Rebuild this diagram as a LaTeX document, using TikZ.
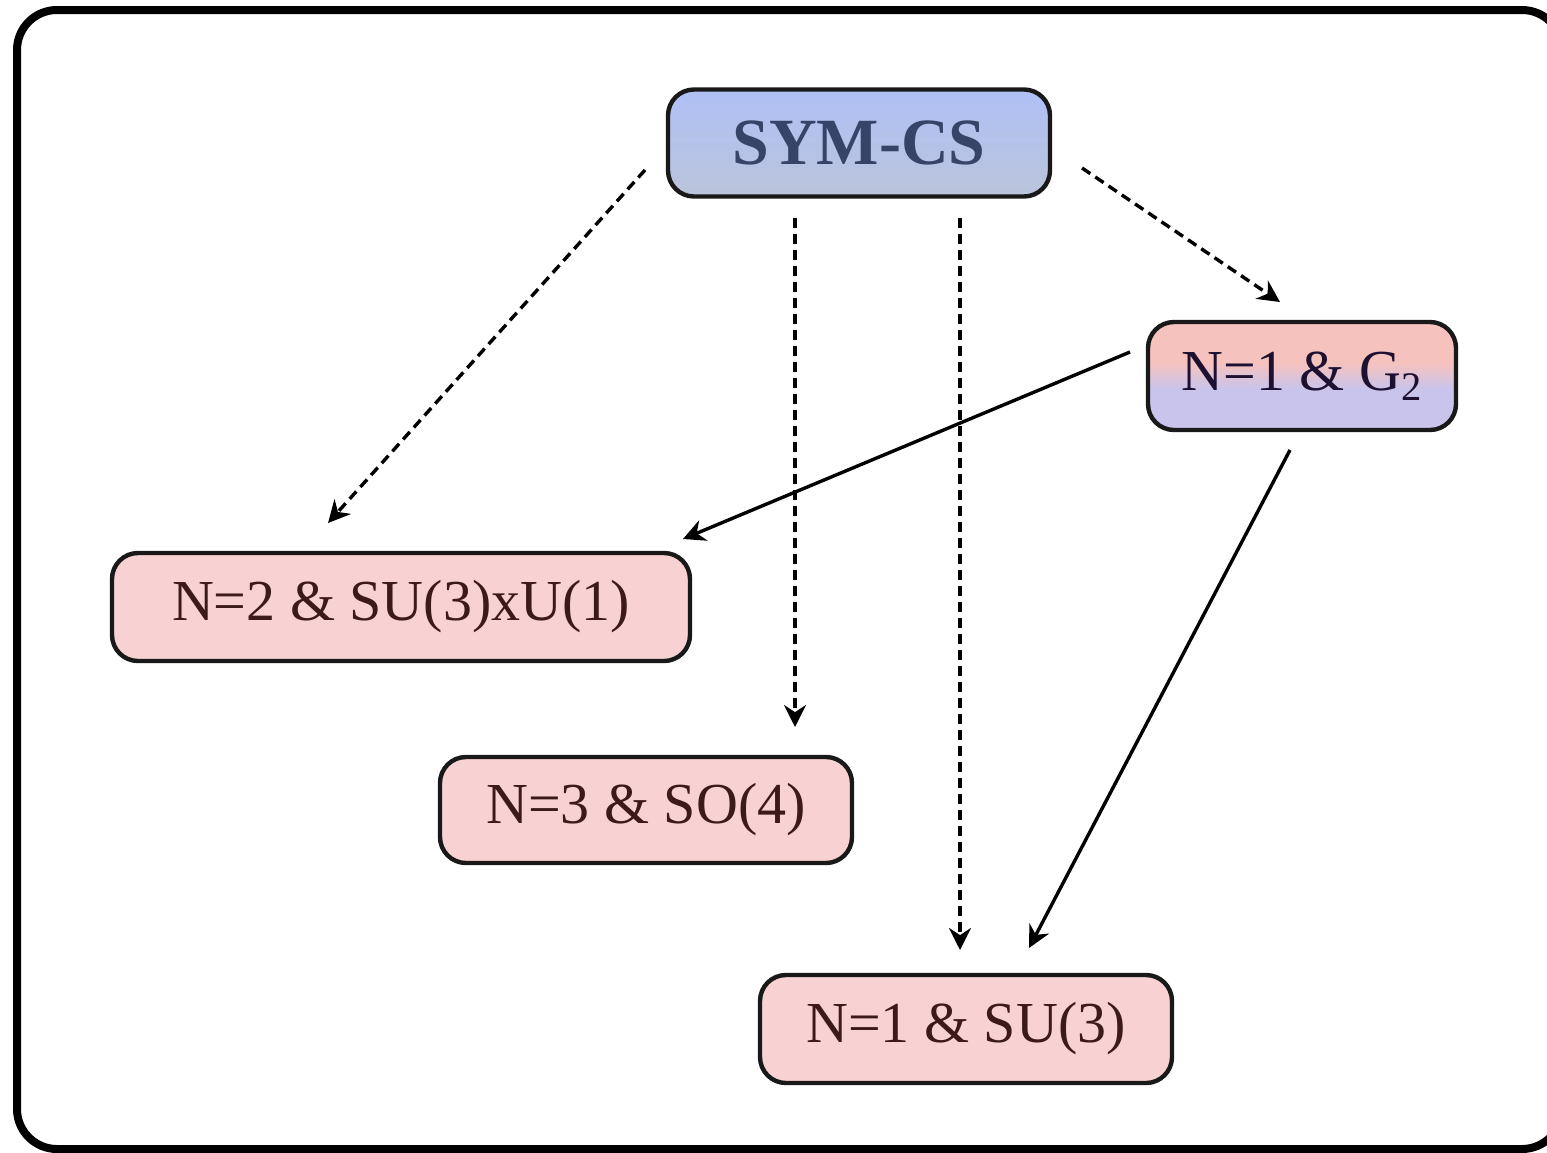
\documentclass[tikz,border=0pt]{standalone}
\usepackage{fontspec}
\setmainfont{Liberation Serif}
\usetikzlibrary{arrows.meta}
\definecolor{pinkfill}{HTML}{F8D2D2}
\definecolor{pinktext}{HTML}{3C1A1A}
\definecolor{symtop}{HTML}{B0C0F6}
\definecolor{symbot}{HTML}{BAC4DA}
\definecolor{symtext}{HTML}{364468}
\definecolor{gtop}{HTML}{F6C2BE}
\definecolor{gbot}{HTML}{C8C4EC}
\definecolor{gtext}{HTML}{1E1030}
\pgfdeclareverticalshading{gtwoshade}{100bp}{color(0bp)=(gbot); color(25bp)=(gbot); color(44bp)=(gbot); color(56bp)=(gtop); color(75bp)=(gtop); color(100bp)=(gtop)}
\tikzset{
  roughbox/.style={draw=black!90, line width=2.2pt, rounded corners=13pt,
    inner sep=0pt, anchor=center},
  pinkbox/.style={roughbox, fill=pinkfill, text=pinktext,
    font=\fontsize{29}{34}\selectfont},
  dasharrow/.style={line width=1.7pt, dash pattern=on 5pt off 3pt,
    -{Stealth[length=11pt,width=11pt]}},
  solidarrow/.style={line width=1.7pt, -{Stealth[length=11pt,width=11pt]}},
}
\begin{document}
\begin{tikzpicture}[x=0.5pt,y=-0.5pt]
\useasboundingbox (0,0) rectangle (1547,1152);
\begin{scope}
\clip (0,0) rectangle (1547,1152);
\draw[line width=4pt, rounded corners=20pt] (17,10) rectangle (1562,1149);
\end{scope}

\node[roughbox, minimum width=191pt, minimum height=53.5pt,
  top color=symtop, bottom color=symbot, text=symtext,
  font=\fontsize{33}{38}\selectfont\bfseries] (sym) at (859,143) {SYM-CS};
\node[roughbox, minimum width=154pt, minimum height=54pt,
  shading=gtwoshade, text=gtext,
  font=\fontsize{29}{34}\selectfont] (g2) at (1302,376) {N=1 \& G\textsubscript{2}};
\node[pinkbox, minimum width=289pt, minimum height=54pt] (su3u1) at (401,607) {N=2 \& SU(3)xU(1)};
\node[pinkbox, minimum width=206pt, minimum height=53pt] (so4) at (646,810) {N=3 \& SO(4)};
\node[pinkbox, minimum width=206pt, minimum height=54pt] (su3) at (966,1029) {N=1 \& SU(3)};

\coordinate (a1s) at (645,170); \coordinate (a1e) at (328,523);
\coordinate (a2s) at (795,218); \coordinate (a2e) at (795,727);
\coordinate (a3s) at (960,218); \coordinate (a3e) at (960,950);
\coordinate (a4s) at (1082,168); \coordinate (a4e) at (1280,302);
\coordinate (a5s) at (1130,352); \coordinate (a5e) at (683,539);
\coordinate (a6s) at (1290,450); \coordinate (a6e) at (1029,948);

\draw[dasharrow] (a1s) -- (a1e);
\draw[dasharrow] (a2s) -- (a2e);
\draw[dasharrow] (a3s) -- (a3e);
\draw[dasharrow] (a4s) -- (a4e);
\draw[solidarrow] (a5s) -- (a5e);
\draw[solidarrow] (a6s) -- (a6e);
\end{tikzpicture}
\end{document}
